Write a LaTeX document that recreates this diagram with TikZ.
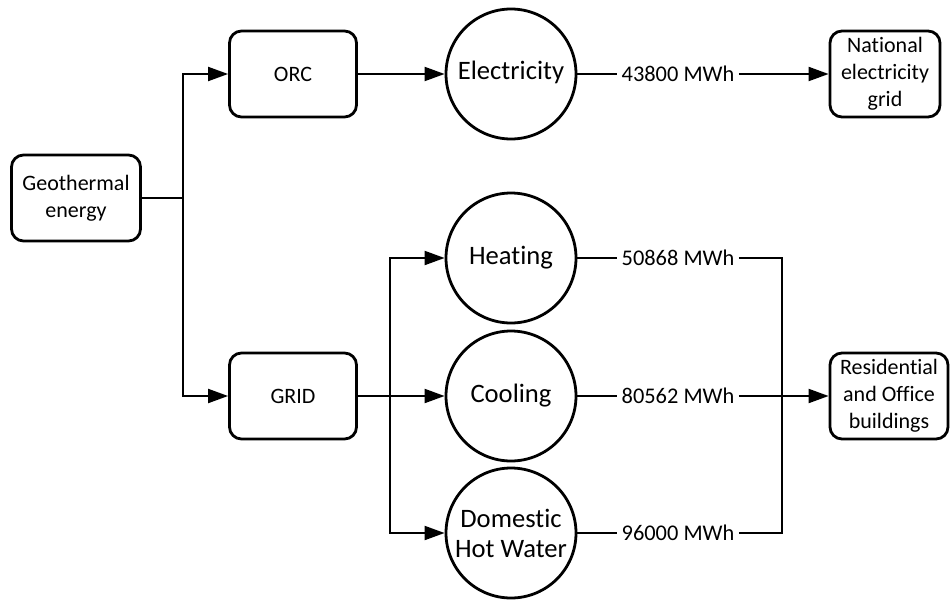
\documentclass[tikz,border=0pt]{standalone}
\usepackage{fontspec}
\setmainfont{Carlito}[Ligatures=NoCommon]
\usetikzlibrary{arrows.meta}
\begin{document}
\begin{tikzpicture}[x={(0.5pt,0pt)}, y={(0pt,-0.5pt)},
    box/.style={draw, line width=1.4pt, rounded corners=6pt, minimum height=43pt,
      align=center, inner sep=1pt, font=\fontsize{11}{13.5}\selectfont},
    use/.style={draw, circle, line width=1.4pt, minimum size=65pt, inner sep=0pt,
      align=center, font=\fontsize{13.3}{15}\selectfont},
    amount/.style={fill=white, inner sep=2pt, font=\fontsize{11.2}{13.5}\selectfont},
    flow/.style={line width=1pt},
    arr/.style={flow, -{Triangle[length=10pt,width=7pt]}}]
  \useasboundingbox (0,0) rectangle (951,599);
  % sources
  \node[box, minimum width=64.5pt] (geo) at (76,198) {Geothermal\\energy};
  \node[box, minimum width=63.5pt] (orc) at (293,74) {ORC};
  \node[box, minimum width=63.5pt] (grid) at (293,396) {GRID};
  % uses
  \node[use] (elec) at (511,74) {\strut Electricity};
  \node[use] (heat) at (511,258) {\strut Heating};
  \node[use] (cool) at (511,396) {\strut Cooling};
  \node[use] (dhw) at (511,533) {Domestic\\Hot Water};
  % consumers
  \node[box, minimum width=55pt] (nat) at (885,74) {National\\electricity\\grid};
  \node[box, minimum width=59pt] (res) at (889,396) {Residential\\and Office\\buildings};
  % amounts
  \node[amount] (e) at (678,74) {43800 MWh};
  \node[amount] (h) at (678,258) {50868 MWh};
  \node[amount] (c) at (678,396) {80562 MWh};
  \node[amount] (d) at (678,533) {96000 MWh};
  \coordinate (split) at (183,198);
  \coordinate (fan) at (390,396);
  \coordinate (join) at (782,396);
  % connectors
  \draw[flow] (geo) -- (split);
  \draw[arr] (split) |- (orc);
  \draw[arr] (split) |- (grid);
  \draw[arr] (orc) -- (elec);
  \draw[arr] (grid) -- (cool);
  \draw[arr] (fan) |- (heat);
  \draw[arr] (fan) |- (dhw);
  \draw[flow] (elec) -- (e);
  \draw[arr] (e) -- (nat);
  \draw[flow] (heat) -- (h);
  \draw[flow] (cool) -- (c);
  \draw[flow] (dhw) -- (d);
  \draw[flow] (h) -| (join);
  \draw[flow] (d) -| (join);
  \draw[flow] (c) -- (join);
  \draw[arr] (join) -- (res);
\end{tikzpicture}
\end{document}
